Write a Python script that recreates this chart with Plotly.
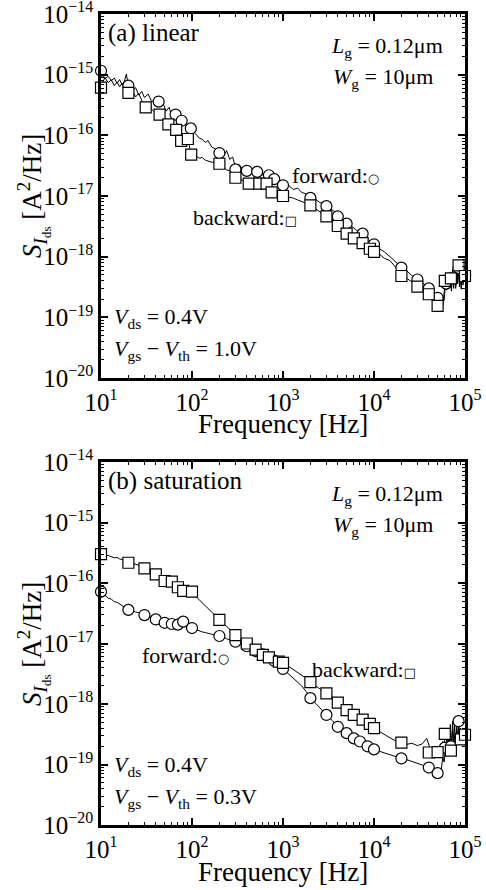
import plotly.graph_objects as go

# ---------------- data ----------------
# continuous spectra frequency grid [Hz]
FREQ = [
    10, 11, 12, 13, 14, 15, 16, 17, 18, 19,
    20, 22, 24, 26, 28, 30, 33, 36, 40, 44,
    48, 52, 56, 60, 65, 70, 75, 80, 85, 90,
    95, 100, 110, 120, 130, 140, 150, 165, 180, 200,
    220, 240, 260, 280, 300, 330, 360, 400, 440, 480,
    520, 560, 600, 650, 700, 750, 800, 850, 900, 950,
    1000, 1150, 1300, 1450, 1600, 1800, 2000, 2250, 2500, 2800,
    3100, 3500, 4000, 4500, 5000, 5600, 6300, 7100, 8000, 9000,
    10000, 11500, 13000, 15000, 17000, 20000, 23000, 26000, 30000, 34000,
    38000, 42000, 46000, 50000, 53000, 55000, 57000, 59000, 61000, 63000,
    65000, 67000, 69000, 71000, 73000, 75000, 77000, 79000, 81000, 83000,
    85000, 87000, 89000, 91000, 93000, 95000, 97000, 100000,
]

# (a) linear, forward sweep spectrum [A^2/Hz]
A_FW = [
    1.15e-15, 8.6e-16, 9.4e-16, 8.0e-16, 8.8e-16, 7.2e-16, 8.3e-16, 6.9e-16, 7.6e-16, 1.02e-15,
    6.5e-16, 5.4e-16, 6.1e-16, 4.6e-16, 5.3e-16, 4.2e-16, 4.8e-16, 3.6e-16, 3.8e-16, 3.0e-16,
    3.4e-16, 2.5e-16, 2.9e-16, 2.1e-16, 2.4e-16, 1.7e-16, 2.0e-16, 1.5e-16, 1.75e-16, 1.3e-16,
    1.45e-16, 1.2e-16, 1.05e-16, 9.0e-17, 8.6e-17, 7.6e-17, 8.2e-17, 6.4e-17, 6.0e-17, 5.0e-17,
    4.4e-17, 5.6e-17, 4.0e-17, 4.4e-17, 3.0e-17, 3.3e-17, 2.7e-17, 2.9e-17, 2.4e-17, 2.8e-17,
    2.3e-17, 2.6e-17, 2.2e-17, 2.4e-17, 2.0e-17, 2.2e-17, 1.85e-17, 1.95e-17, 1.6e-17, 1.7e-17,
    1.45e-17, 1.5e-17, 1.28e-17, 1.35e-17, 1.15e-17, 1.08e-17, 9.2e-18, 9.0e-18, 7.9e-18, 7.4e-18,
    6.6e-18, 5.9e-18, 4.8e-18, 4.2e-18, 3.6e-18, 3.2e-18, 2.8e-18, 2.4e-18, 2.1e-18, 1.8e-18,
    1.6e-18, 1.35e-18, 1.2e-18, 1.0e-18, 8.4e-19, 6.7e-19, 5.8e-19, 4.9e-19, 4.3e-19, 3.7e-19,
    3.3e-19, 2.9e-19, 2.5e-19, 2.1e-19, 1.9e-19, 1.8e-19, 2.2e-19, 1.9e-19, 3.6e-19, 2.8e-19,
    4.8e-19, 3.0e-19, 5.6e-19, 3.4e-19, 6.2e-19, 3.0e-19, 5.2e-19, 3.3e-19, 7.4e-19, 3.6e-19,
    6.6e-19, 3.2e-19, 5.8e-19, 2.9e-19, 5.4e-19, 3.4e-19, 6.0e-19, 4.6e-19,
]

# (a) linear, backward sweep spectrum
A_BW = [
    6.2e-16, 9.0e-16, 7.4e-16, 8.2e-16, 6.6e-16, 7.6e-16, 6.3e-16, 7.1e-16, 5.9e-16, 6.8e-16,
    5.0e-16, 5.6e-16, 4.3e-16, 4.9e-16, 3.8e-16, 3.0e-16, 3.5e-16, 2.7e-16, 2.3e-16, 2.5e-16,
    2.0e-16, 1.6e-16, 1.8e-16, 1.3e-16, 1.25e-16, 1.0e-16, 8.0e-17, 9.2e-17, 7.6e-17, 8.6e-17,
    6.0e-17, 4.9e-17, 4.6e-17, 4.2e-17, 4.3e-17, 3.9e-17, 3.8e-17, 3.6e-17, 3.6e-17, 3.4e-17,
    3.0e-17, 2.7e-17, 2.6e-17, 2.3e-17, 2.05e-17, 1.9e-17, 1.8e-17, 1.6e-17, 1.6e-17, 1.55e-17,
    1.6e-17, 1.55e-17, 1.6e-17, 1.5e-17, 1.3e-17, 1.15e-17, 1.12e-17, 1.08e-17, 1.05e-17, 1.02e-17,
    1.0e-17, 9.6e-18, 9.2e-18, 8.6e-18, 8.2e-18, 7.6e-18, 7.0e-18, 6.3e-18, 5.6e-18, 5.0e-18,
    4.5e-18, 4.0e-18, 3.3e-18, 2.8e-18, 2.45e-18, 2.15e-18, 1.95e-18, 1.75e-18, 1.55e-18, 1.35e-18,
    1.2e-18, 1.1e-18, 9.4e-19, 8.6e-19, 7.0e-19, 5.2e-19, 4.4e-19, 3.8e-19, 3.3e-19, 2.9e-19,
    2.6e-19, 2.3e-19, 2.0e-19, 1.6e-19, 1.5e-19, 1.7e-19, 1.55e-19, 2.4e-19, 4.2e-19, 3.2e-19,
    5.0e-19, 3.3e-19, 4.4e-19, 2.7e-19, 5.4e-19, 3.6e-19, 6.6e-19, 3.0e-19, 6.2e-19, 4.0e-19,
    7.4e-19, 3.5e-19, 6.4e-19, 3.1e-19, 5.8e-19, 3.7e-19, 5.2e-19, 4.8e-19,
]

# (b) saturation, forward sweep spectrum
B_FW = [
    7.2e-17, 6.2e-17, 5.6e-17, 5.4e-17, 4.9e-17, 4.8e-17, 4.5e-17, 4.3e-17, 4.1e-17, 3.8e-17,
    3.6e-17, 3.5e-17, 3.3e-17, 3.25e-17, 3.1e-17, 2.95e-17, 2.85e-17, 2.7e-17, 2.5e-17, 2.45e-17,
    2.3e-17, 2.2e-17, 2.15e-17, 2.1e-17, 2.05e-17, 2.0e-17, 2.1e-17, 2.2e-17, 2.0e-17, 1.9e-17,
    1.85e-17, 1.8e-17, 1.7e-17, 1.62e-17, 1.55e-17, 1.52e-17, 1.46e-17, 1.42e-17, 1.37e-17, 1.33e-17,
    1.26e-17, 1.2e-17, 1.15e-17, 1.1e-17, 1.07e-17, 1.02e-17, 9.7e-18, 9.0e-18, 8.4e-18, 7.8e-18,
    7.3e-18, 6.9e-18, 6.6e-18, 6.2e-18, 5.8e-18, 5.5e-18, 5.2e-18, 4.8e-18, 4.4e-18, 4.1e-18,
    3.8e-18, 3.2e-18, 2.7e-18, 2.3e-18, 2.0e-18, 1.6e-18, 1.28e-18, 1.05e-18, 8.8e-19, 7.4e-19,
    6.3e-19, 5.3e-19, 4.2e-19, 3.7e-19, 3.3e-19, 2.95e-19, 2.6e-19, 2.4e-19, 2.15e-19, 1.95e-19,
    1.8e-19, 1.65e-19, 1.55e-19, 1.45e-19, 1.37e-19, 1.26e-19, 1.2e-19, 1.12e-19, 1.03e-19, 9.8e-20,
    9.3e-20, 8.7e-20, 8.2e-20, 7.3e-20, 7.6e-20, 8.5e-20, 1.3e-19, 1.1e-19, 1.9e-19, 1.6e-19,
    2.6e-19, 1.8e-19, 3.2e-19, 2.0e-19, 3.6e-19, 2.2e-19, 3.0e-19, 1.9e-19, 4.2e-19, 2.4e-19,
    5.2e-19, 2.6e-19, 4.0e-19, 2.1e-19, 3.4e-19, 2.3e-19, 3.1e-19, 2.8e-19,
]

# (b) saturation, backward sweep spectrum
B_BW = [
    3.0e-16, 2.8e-16, 2.85e-16, 2.7e-16, 2.6e-16, 2.65e-16, 2.5e-16, 2.45e-16, 2.35e-16, 2.3e-16,
    2.2e-16, 2.15e-16, 2.05e-16, 1.95e-16, 1.9e-16, 1.78e-16, 1.7e-16, 1.58e-16, 1.42e-16, 1.3e-16,
    1.18e-16, 1.1e-16, 1.07e-16, 1.04e-16, 9.6e-17, 8.6e-17, 8.0e-17, 7.5e-17, 7.4e-17, 7.3e-17,
    7.2e-17, 7.0e-17, 6.0e-17, 5.3e-17, 4.7e-17, 4.2e-17, 3.8e-17, 3.3e-17, 2.9e-17, 2.45e-17,
    2.15e-17, 1.9e-17, 1.7e-17, 1.52e-17, 1.38e-17, 1.25e-17, 1.13e-17, 1.0e-17, 9.2e-18, 8.4e-18,
    7.8e-18, 7.2e-18, 6.8e-18, 6.3e-18, 5.9e-18, 5.6e-18, 5.3e-18, 5.1e-18, 4.95e-18, 4.85e-18,
    4.8e-18, 4.2e-18, 3.7e-18, 3.3e-18, 3.0e-18, 2.65e-18, 2.3e-18, 2.0e-18, 1.8e-18, 1.6e-18,
    1.45e-18, 1.25e-18, 1.05e-18, 9.1e-19, 7.9e-19, 7.0e-19, 6.2e-19, 5.6e-19, 5.1e-19, 4.5e-19,
    4.0e-19, 3.5e-19, 3.1e-19, 2.75e-19, 2.5e-19, 2.3e-19, 2.15e-19, 2.25e-19, 2.05e-19, 2.2e-19,
    2.7e-19, 1.7e-19, 1.6e-19, 1.6e-19, 1.55e-19, 1.65e-19, 2.4e-19, 2.0e-19, 3.3e-19, 2.4e-19,
    3.8e-19, 1.9e-19, 4.6e-19, 1.8e-19, 5.2e-19, 2.5e-19, 4.4e-19, 2.1e-19, 3.6e-19, 2.6e-19,
    4.8e-19, 2.3e-19, 4.0e-19, 2.2e-19, 3.6e-19, 2.7e-19, 3.3e-19, 3.1e-19,
]

# marker points
A_FW_MF = [10, 20, 43, 66, 77, 97, 200, 300, 400, 520, 700, 800, 1000,
           2000, 3000, 4000, 5000, 7500, 10000, 20000, 30000, 40000, 50000, 62000, 85000]
A_FW_MS = [1.16e-15, 6.6e-16, 3.6e-16, 2.2e-16, 1.74e-16, 1.3e-16, 5.1e-17, 2.75e-17, 2.6e-17,
           2.5e-17, 2.2e-17, 1.9e-17, 1.5e-17, 9.3e-18, 6.8e-18, 4.6e-18, 3.5e-18, 2.4e-18,
           1.6e-18, 6.6e-19, 4.2e-19, 3.0e-19, 2.1e-19, 3.6e-19, 6.5e-19]
A_BW_MF = [10, 20, 31, 44, 55, 67, 76, 90, 98, 200, 300, 420, 550, 660, 750, 1000,
           2000, 3000, 4000, 5000, 6000, 7500, 9000, 10000, 20000, 30000, 40000, 50000,
           60000, 70000, 85000, 100000]
A_BW_MS = [6.1e-16, 5.0e-16, 2.9e-16, 2.2e-16, 1.52e-16, 1.23e-16, 8.1e-17, 8.7e-17, 4.8e-17,
           3.4e-17, 2.0e-17, 1.6e-17, 1.6e-17, 1.6e-17, 1.15e-17, 1.0e-17, 7.0e-18, 4.6e-18,
           3.2e-18, 2.4e-18, 2.0e-18, 1.67e-18, 1.35e-18, 1.2e-18, 4.8e-19, 3.2e-19, 2.4e-19,
           1.55e-19, 4.0e-19, 4.4e-19, 7.2e-19, 4.8e-19]
B_FW_MF = [10, 20, 30, 40, 50, 60, 70, 80, 100, 200, 300, 400, 500, 600, 800, 1000,
           2000, 3000, 4000, 5000, 6000, 7000, 8500, 10000, 20000, 40000, 50000, 60000,
           70000, 85000]
B_FW_MS = [7.2e-17, 3.6e-17, 2.95e-17, 2.5e-17, 2.2e-17, 2.1e-17, 2.05e-17, 2.3e-17, 1.8e-17,
           1.33e-17, 1.07e-17, 9.0e-18, 7.5e-18, 6.6e-18, 5.2e-18, 3.8e-18, 1.25e-18, 6.6e-19,
           4.2e-19, 3.3e-19, 2.7e-19, 2.4e-19, 2.0e-19, 1.78e-19, 1.26e-19, 8.9e-20, 7.2e-20,
           1.9e-19, 2.0e-19, 5.2e-19]
B_BW_MF = [10, 20, 30, 40, 50, 60, 70, 80, 100, 200, 300, 400, 500, 600, 700, 900, 1000,
           2000, 3000, 4000, 5000, 6000, 7500, 9000, 10000, 20000, 40000, 50000, 60000,
           70000, 90000, 100000]
B_BW_MS = [3.0e-16, 2.16e-16, 1.75e-16, 1.39e-16, 1.08e-16, 1.05e-16, 8.5e-17, 7.4e-17,
           7.2e-17, 2.45e-17, 1.38e-17, 1.0e-17, 7.9e-18, 6.5e-18, 5.9e-18, 5.0e-18, 4.8e-18,
           2.3e-18, 1.5e-18, 1.05e-18, 7.9e-19, 6.6e-19, 5.5e-19, 4.7e-19, 4.0e-19, 2.3e-19,
           1.58e-19, 1.6e-19, 3.2e-19, 1.7e-19, 2.6e-19, 3.1e-19]

X_TICKS = [10, 100, 1000, 10000, 100000]
X_EXP = ["1", "2", "3", "4", "5"]
Y_TICKS = [1e-20, 1e-19, 1e-18, 1e-17, 1e-16, 1e-15, 1e-14]
Y_EXP = ["\u221220", "\u221219", "\u221218", "\u221217", "\u221216", "\u221215", "\u221214"]

# ---------------- figure ----------------
W, H = 486, 890
FONT = "Liberation Serif, Times New Roman, serif"


def px(x):
    return x / W


def py(y):
    return 1 - y / H


def pow_label(e):
    return '10<sup><span style="font-size:16px">' + e + '</span></sup>'


X_TICKTEXT = [pow_label(e) for e in X_EXP]
Y_TICKTEXT = [pow_label(e) for e in Y_EXP]

fig = go.Figure()

line_style = dict(color="black", width=1)
for xa, ya, ys in [("x", "y", A_FW), ("x", "y", A_BW), ("x2", "y2", B_FW), ("x2", "y2", B_BW)]:
    fig.add_trace(go.Scatter(x=FREQ, y=ys, mode="lines", line=line_style,
                             xaxis=xa, yaxis=ya, showlegend=False, hoverinfo="skip"))

mk_c = dict(symbol="circle", size=11, color="white", line=dict(color="black", width=1.2))
mk_s = dict(symbol="square", size=11, color="white", line=dict(color="black", width=1.2))
for xa, ya, xs, ys, mk in [("x", "y", A_FW_MF, A_FW_MS, mk_c), ("x", "y", A_BW_MF, A_BW_MS, mk_s),
                           ("x2", "y2", B_FW_MF, B_FW_MS, mk_c), ("x2", "y2", B_BW_MF, B_BW_MS, mk_s)]:
    fig.add_trace(go.Scatter(x=xs, y=ys, mode="markers", marker=mk, cliponaxis=False,
                             xaxis=xa, yaxis=ya, showlegend=False, hoverinfo="skip"))

axis_common = dict(
    showline=True, linecolor="black", linewidth=2.5, mirror="ticks",
    ticks="inside", ticklen=7, tickwidth=1.5, tickcolor="black",
    showgrid=False, zeroline=False, automargin=False, ticklabeloverflow="allow",
    tickfont=dict(family=FONT, size=25, color="black"),
    minor=dict(ticks="inside", ticklen=3.5, tickwidth=1, tickcolor="black", dtick="D1", showgrid=False),
)

x_dom = [px(101), px(465)]
fig.update_layout(
    width=W, height=H, autosize=False,
    margin=dict(l=0, r=0, t=0, b=0, pad=0, autoexpand=False),
    paper_bgcolor="white", plot_bgcolor="white",
    font=dict(family=FONT, color="black"),
    xaxis=dict(type="log", range=[1, 5], domain=x_dom, anchor="y",
               tickvals=X_TICKS, ticktext=X_TICKTEXT, **axis_common),
    yaxis=dict(type="log", range=[-20, -14], domain=[py(378), py(14)], anchor="x",
               tickvals=Y_TICKS, ticktext=Y_TICKTEXT, **axis_common),
    xaxis2=dict(type="log", range=[1, 5], domain=x_dom, anchor="y2",
                tickvals=X_TICKS, ticktext=X_TICKTEXT, **axis_common),
    yaxis2=dict(type="log", range=[-20, -14], domain=[py(825), py(462)], anchor="x2",
                tickvals=Y_TICKS, ticktext=Y_TICKTEXT, **axis_common),
)


def ann(text, x, y, size=22, xanchor="left", angle=0):
    fig.add_annotation(text=text, x=px(x), y=py(y), xref="paper", yref="paper",
                       xanchor=xanchor, yanchor="middle", showarrow=False, textangle=angle,
                       font=dict(family=FONT, size=size, color="black"))


SYM = '<span style="font-family:DejaVu Sans;font-size:13px">{}</span>'
Y_TITLE = "<i>S</i><sub><i>I</i><sub>ds</sub></sub> [A<sup>2</sup>/Hz]"
X_TITLE = "Frequency [Hz]"

for off, label, vgs in [(0, "(a) linear", "1.0V"), (448, "(b) saturation", "0.3V")]:
    ann(label, 106, 33 + off, size=25)
    ann("<i>L</i><sub>g</sub> = 0.12\u03bcm", 445, 47 + off, xanchor="right")
    ann("<i>W</i><sub>g</sub> = 10\u03bcm", 435, 78 + off, xanchor="right")
    ann("<i>V</i><sub>ds</sub> = 0.4V", 112, 318 + off)
    ann("<i>V</i><sub>gs</sub> \u2212 <i>V</i><sub>th</sub> = " + vgs, 112, 350 + off)
    ann(X_TITLE, 283, 424 + off, size=27, xanchor="center")
    ann(Y_TITLE, 33, 196 + off, size=27, xanchor="center", angle=-90)

ann("forward:" + SYM.format("\u25cb"), 290, 175, size=22)
ann("backward:" + SYM.format("\u25a1"), 191, 217, size=22)
ann("forward:" + SYM.format("\u25cb"), 140, 655, size=22)
ann("backward:" + SYM.format("\u25a1"), 310, 669, size=22)

fig.write_html("out.html")
